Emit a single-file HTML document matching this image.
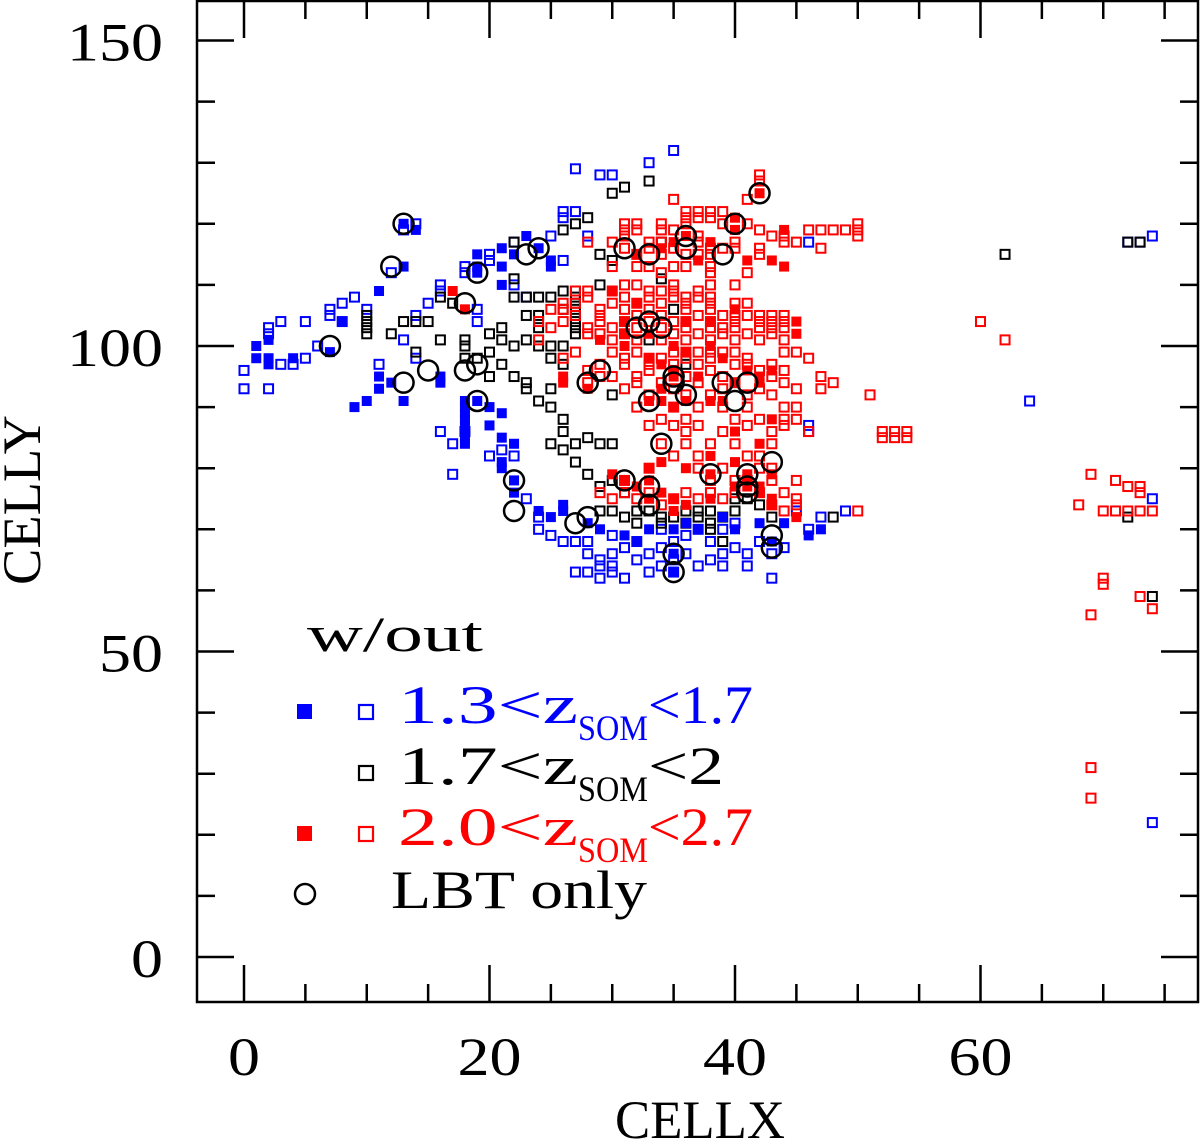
<!DOCTYPE html>
<html><head><meta charset="utf-8"><style>
html,body{margin:0;padding:0;background:#fff}
svg{display:block;font-family:"Liberation Serif",serif}
</style></head><body>
<svg id="chart" width="1200" height="1142" viewBox="0 0 1200 1142" xmlns="http://www.w3.org/2000/svg">
<g id="axes"></g>
<g id="marks"></g>
<g id="legend">
<text x="307" y="651" font-size="50" textLength="176" lengthAdjust="spacingAndGlyphs">w/out</text>
<rect x="297" y="704" width="15" height="15" fill="#0000ff"/>
<rect x="359" y="705" width="14" height="14" fill="none" stroke="#0000ff" stroke-width="2.2"/>
<text x="398" y="723" font-size="54" fill="#0000ff"><tspan textLength="180" lengthAdjust="spacingAndGlyphs">1.3&lt;z</tspan><tspan font-size="36" dy="17" textLength="70" lengthAdjust="spacingAndGlyphs">SOM</tspan><tspan dy="-17" textLength="105" lengthAdjust="spacingAndGlyphs">&lt;1.7</tspan></text>
<rect x="359" y="766" width="14" height="14" fill="none" stroke="#000" stroke-width="2.2"/>
<text x="398" y="784" font-size="54" fill="#000"><tspan textLength="180" lengthAdjust="spacingAndGlyphs">1.7&lt;z</tspan><tspan font-size="36" dy="17" textLength="70" lengthAdjust="spacingAndGlyphs">SOM</tspan><tspan dy="-17" textLength="76" lengthAdjust="spacingAndGlyphs">&lt;2</tspan></text>
<rect x="297" y="826" width="15" height="15" fill="#ff0000"/>
<rect x="359" y="827" width="14" height="14" fill="none" stroke="#ff0000" stroke-width="2.2"/>
<text x="398" y="845" font-size="54" fill="#ff0000"><tspan textLength="180" lengthAdjust="spacingAndGlyphs">2.0&lt;z</tspan><tspan font-size="36" dy="17" textLength="70" lengthAdjust="spacingAndGlyphs">SOM</tspan><tspan dy="-17" textLength="105" lengthAdjust="spacingAndGlyphs">&lt;2.7</tspan></text>
<circle cx="305" cy="894" r="10" fill="none" stroke="#000" stroke-width="2.5"/>
<text x="391" y="908" font-size="54" textLength="256" lengthAdjust="spacingAndGlyphs">LBT only</text>
</g>
<text x="700" y="1138" font-size="54" text-anchor="middle" textLength="170" lengthAdjust="spacingAndGlyphs">CELLX</text>
<text transform="translate(40,500) rotate(-90)" font-size="54" text-anchor="middle" textLength="170" lengthAdjust="spacingAndGlyphs">CELLY</text>
</svg>
<script>
const xTicks = [0, 20, 40, 60];
const yTicks = [0, 50, 100, 150];
const blueOpen = [[0,96],[0,93],[2,103],[2,102],[2,93],[3,104],[3,97],[4,97],[5,98],[5,104],[6,100],[7,105],[7,106],[8,104],[8,107],[9,108],[10,106],[12,112],[11,97],[14,98],[13,101],[14,105],[15,107],[16,109],[16,110],[18,113],[18,112],[20,115],[20,114],[22,110],[23,108],[19,106],[19,104],[22,117],[26,121],[26,122],[27,122],[25,118],[26,114],[28,118],[27,129],[29,128],[30,128],[33,130],[35,132],[13,119],[14,120],[16,86],[17,84],[17,79],[22,82],[21,83],[23,75],[24,72],[24,70],[25,69],[26,68],[27,68],[27,63],[28,63],[28,66],[29,64],[29,65],[29,62],[30,63],[30,64],[30,66],[30,69],[31,67],[32,68],[32,65],[33,66],[34,67],[34,70],[35,68],[35,65],[36,66],[36,69],[37,70],[38,68],[38,65],[39,66],[39,70],[40,71],[40,67],[41,66],[42,68],[43,62],[43,66],[44,67],[45,73],[46,87],[46,86],[46,70],[47,72],[49,73],[46,117],[64,91],[72,117],[73,117],[74,118],[74,75],[74,22],[18,86],[20,82],[33,63],[31,62],[34,64],[37,64],[35,63],[39,64],[41,64],[28,68]];
const blueFilled = [[1,100],[1,98],[2,101],[2,98],[2,97],[4,98],[7,99],[8,104],[9,90],[10,91],[11,93],[12,94],[11,95],[13,91],[13,113],[14,119],[13,120],[11,109],[16,94],[16,95],[18,91],[18,90],[18,89],[18,88],[18,87],[18,86],[18,85],[18,84],[19,91],[20,90],[20,87],[21,85],[22,84],[21,81],[21,80],[22,78],[22,76],[24,73],[25,72],[26,74],[26,73],[28,71],[29,70],[31,69],[32,68],[33,70],[35,70],[35,63],[35,66],[36,71],[37,70],[39,72],[40,70],[42,71],[43,68],[44,71],[46,69],[47,70],[19,115],[19,113],[19,112],[21,113],[21,110],[23,118],[22,115],[24,116],[25,113],[21,116],[25,114],[21,89]];
const blackOpen = [[10,105],[10,104],[10,103],[10,102],[12,102],[13,104],[14,104],[15,104],[16,101],[14,99],[16,108],[17,107],[18,101],[18,100],[18,98],[19,98],[20,102],[21,103],[21,101],[20,99],[21,97],[20,95],[22,100],[22,95],[23,101],[24,103],[24,100],[25,100],[22,117],[22,111],[22,108],[23,108],[23,105],[24,105],[24,108],[25,108],[26,109],[26,106],[27,109],[27,108],[27,107],[27,106],[27,105],[27,104],[27,103],[27,102],[26,100],[25,98],[26,97],[23,94],[23,93],[24,91],[25,93],[25,90],[26,88],[26,86],[25,84],[27,84],[28,85],[29,84],[30,84],[26,83],[27,81],[28,79],[29,77],[30,78],[31,76],[29,73],[30,73],[31,72],[32,71],[32,73],[33,73],[34,72],[34,71],[35,72],[36,73],[36,71],[37,72],[37,73],[38,73],[38,71],[39,72],[40,73],[40,75],[41,75],[42,74],[43,72],[48,72],[26,119],[27,120],[28,121],[30,125],[31,126],[33,127],[30,114],[29,115],[29,110],[34,117],[34,111],[36,97],[33,101],[30,92],[62,115],[72,117],[73,117],[74,59],[72,72],[35,106],[39,68],[38,70]];
const redOpenRows = [[128,[42]],[127,[42]],[124,[35,41]],[122,[36,37,38,39]],[121,[36,37,38]],[120,[31,32,34,36,39,41,50]],[119,[31,32,34,35,42,46,47,48,49,50]],[118,[31,37,43,44,50]],[117,[28,30,33,34,37,40,44,45]],[116,[31,33,35,38,39,40,42,47]],[115,[32,34,36,37,38,42]],[113,[30,32,33,35,36,38]],[112,[34,38,41]],[110,[31,32,35,38,40]],[109,[27,28,30,33,34,35,37]],[108,[28,31,33,35,36,37,38]],[107,[26,27,30,32,34,36,38,40,41]],[106,[25,26,29,31,33,36,38]],[105,[27,29,32,34,37,39,40,41,42,43,44]],[104,[24,26,29,31,33,35,36,38,40,42,43,44,60]],[103,[25,28,30,32,34,36,38,39,40,42,43,44]],[102,[28,29,31,35,37,39,41,43]],[101,[24,30,32,34,36,38,40,42,44,62]],[99,[27,30,32,35,36,37,38,39,40,44,45]],[98,[26,31,33,34,36,38,41,46]],[97,[29,31,33,35,37,40,41,43]],[96,[28,33,35,38,42,44]],[95,[29,30,32,36,39,43,47]],[94,[28,32,34,37,40,44,48]],[93,[31,35,39,42,45,47]],[92,[33,36,38,41,43,51]],[90,[32,35,37,39,41,44,45]],[88,[34,36,40,42,44,45]],[87,[33,35,37,41,44]],[86,[36,39,43,46,52,53,54]],[85,[52,53,54]],[84,[34,36,38,40,43]],[82,[35,37,41,42]],[80,[33,37,39,42,43]],[79,[69]],[78,[31,38,40,41,43,45,71]],[77,[72,73]],[76,[29,31,33,36,38,40,42,44,73]],[75,[30,32,35,37,39,45]],[74,[34,43,45,68]],[73,[44,50,70,71,72,73,74]],[62,[70]],[61,[70]],[59,[73]],[57,[74]],[56,[69]],[31,[69]],[26,[69]]];
const redFilled = [[18,106],[17,109],[32,107],[31,102],[33,102],[31,100],[35,96],[35,95],[34,93],[37,95],[40,94],[42,95],[41,96],[39,98],[33,91],[34,91],[38,91],[29,101],[26,94],[26,95],[28,93],[38,100],[43,96],[42,94],[45,104],[45,102],[44,113],[43,114],[37,114],[35,117],[34,116],[32,115],[36,118],[38,117],[40,119],[40,121],[42,125],[41,114],[44,119],[30,109],[31,104],[38,104],[40,106],[35,100],[36,104],[33,98],[34,97],[36,99],[36,91],[35,90],[33,80],[32,77],[33,75],[36,80],[38,79],[38,82],[40,81],[40,77],[41,77],[41,78],[41,79],[42,77],[42,76],[43,79],[43,75],[43,74],[45,72],[35,75],[38,75],[33,78],[31,78],[30,79],[34,81],[36,74],[35,73],[34,76],[42,84],[40,86],[39,91],[43,88]];
const lbtCircles = [[13,120],[12,113],[19,112],[18,107],[7,100],[13,94],[15,96],[18,96],[19,97],[19,91],[22,78],[22,73],[23,115],[24,116],[27,71],[28,72],[28,94],[29,96],[31,116],[32,103],[33,104],[34,103],[33,115],[33,91],[34,84],[35,95],[35,94],[36,92],[36,118],[36,116],[35,66],[35,63],[33,77],[33,74],[31,78],[38,79],[39,94],[39,115],[40,91],[40,120],[41,94],[41,79],[41,76],[41,77],[42,125],[43,81],[43,69],[43,67]];

const NS = 'http://www.w3.org/2000/svg';
const L = 197, R = 1198, T = 1, B = 1002;
function sx(v){ return 244 + (v - 0) * (735 - 244) / 40; }
function sy(v){ return 957 - v * (957 - 346) / 100; }
function mk(tag, attrs, parent){ const e = document.createElementNS(NS, tag); for (const k in attrs) e.setAttribute(k, attrs[k]); parent.appendChild(e); return e; }

const axes = document.getElementById('axes');
const frame = mk('rect', {x:L, y:T, width:R-L, height:B-T, fill:'none', stroke:'#000', 'stroke-width':2.5}, axes);


for (let v = 0; v <= 75; v += 5) {
  const major = v % 20 === 0, len = major ? 37 : 18, x = sx(v);
  const t1 = mk('line', {x1:x, x2:x, y1:B, y2:B-len, stroke:'#000', 'stroke-width':2.5}, axes);
  
  
  const t2 = mk('line', {x1:x, x2:x, y1:T, y2:T+len, stroke:'#000', 'stroke-width':2.5}, axes);
  
  
}
for (let v = 0; v <= 150; v += 10) {
  const major = v % 50 === 0, len = major ? 37 : 18, y = sy(v);
  const t1 = mk('line', {x1:L, x2:L+len, y1:y, y2:y, stroke:'#000', 'stroke-width':2.5}, axes);
  
  
  const t2 = mk('line', {x1:R, x2:R-len, y1:y, y2:y, stroke:'#000', 'stroke-width':2.5}, axes);
  
  
}
xTicks.forEach(v => {
  const s = String(v);
  const t = mk('text', {x:sx(v), y:1075, 'font-size':54, 'text-anchor':'middle', textLength:s.length*32, lengthAdjust:'spacingAndGlyphs'}, axes);
  t.textContent = s;
  
  
});
yTicks.forEach(v => {
  const s = String(v);
  const t = mk('text', {x:163, y:sy(v)+20, 'font-size':54, 'text-anchor':'end', textLength:s.length*32, lengthAdjust:'spacingAndGlyphs'}, axes);
  t.textContent = s;
  
  
});

const marks = document.getElementById('marks');
function openSq(d, color, name){
  const e = mk('rect', {x:sx(d[0])-4.5, y:sy(d[1])-4.5, width:9, height:9, fill:'none', stroke:color, 'stroke-width':2}, marks);
  
  
}
function fillSq(d, color, name){
  const e = mk('rect', {x:sx(d[0])-5, y:sy(d[1])-5, width:10, height:10, fill:color}, marks);
  
  
}
blueOpen.forEach(d => openSq(d, '#0000ff', 'blue-open-point'));
blackOpen.forEach(d => openSq(d, '#000000', 'black-open-point'));
redOpenRows.forEach(r => r[1].forEach(x => openSq([x, r[0]], '#ff0000', 'red-open-point')));
blueFilled.forEach(d => fillSq(d, '#0000ff', 'blue-filled-point'));
redFilled.forEach(d => fillSq(d, '#ff0000', 'red-filled-point'));
lbtCircles.forEach(d => {
  const c = mk('circle', {cx:sx(d[0]), cy:sy(d[1]), r:10, fill:'none', stroke:'#000', 'stroke-width':2.5}, marks);
  
  
});
</script>
</body></html>
